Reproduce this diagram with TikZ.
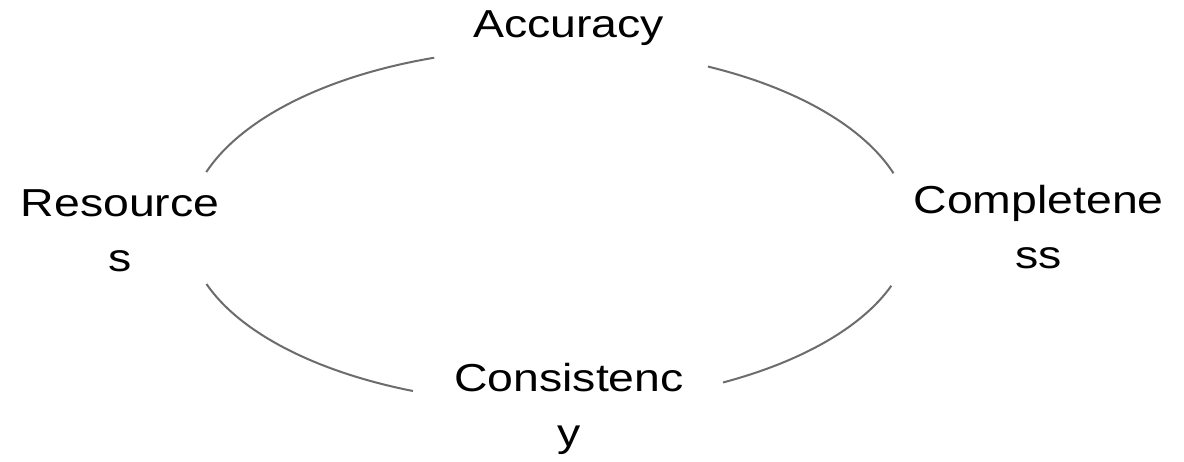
\documentclass[tikz,border=0pt]{standalone}
\usepackage{fontspec}
\newfontfamily\widesans[FakeStretch=1.19]{Liberation Sans}
\begin{document}
\begin{tikzpicture}[x=1pt,y=1pt,
  label/.style={inner sep=0pt, anchor=base, align=center,
    font={\widesans\fontsize{39}{55}\selectfont}, text=black},
  cyc/.style={draw={rgb,255:red,108;green,108;blue,108}, line width=2pt}]
\fill[white] (0,0) rectangle (1184,-461);
\useasboundingbox (0,0) rectangle (1184,-461);
\node[label] (acc) at (568.7,-37.5) {Accuracy};
\node[label] (res) at (120,-271) {Resource\\s};
\node[label] (com) at (1038.7,-268) {Completene\\ss};
\node[label] (con) at (569,-446) {Consistenc\\y};
\coordinate (c) at (549.5,-228.7);
\draw[cyc] (c) ++(161.7:361.5 and 180.4) arc[start angle=161.7, end angle=108.6, x radius=361.5, y radius=180.4];
\draw[cyc] (c) ++(64:361.5 and 180.4) arc[start angle=64, end angle=17.9, x radius=361.5, y radius=180.4];
\draw[cyc] (c) ++(198.4:361.5 and 175.3) arc[start angle=198.4, end angle=247.8, x radius=361.5, y radius=175.3];
\draw[cyc] (c) ++(-19:361.5 and 175.3) arc[start angle=-19, end angle=-61.3, x radius=361.5, y radius=175.3];
\end{tikzpicture}
\end{document}
